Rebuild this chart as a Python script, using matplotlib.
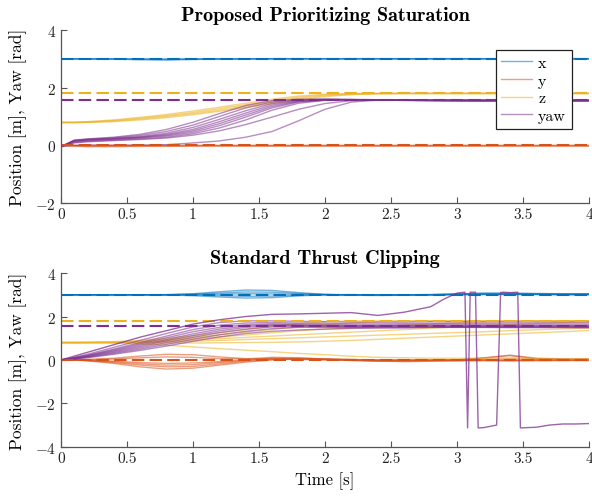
import numpy as np
import matplotlib
matplotlib.use('Agg')
from matplotlib import pyplot as plt

plt.rcParams['font.family'] = 'cmr10'
plt.rcParams['mathtext.fontset'] = 'cm'
plt.rcParams['axes.formatter.use_mathtext'] = True
plt.rcParams['axes.unicode_minus'] = True

# colours for x, y, z, yaw
c_x = '#0072BD'
c_y = '#D95319'
c_z = '#EDB120'
c_yaw = '#7E2F8E'

# reference setpoints
ref_x = 3.0
ref_y = 0.0
ref_z = 1.8
ref_yaw = 1.57

# common sample times of the runs [s]
t = [0, 0.1, 0.2, 0.4, 0.6, 0.8, 1.0, 1.2, 1.4, 1.6, 1.8, 2.0, 2.2, 2.4, 2.6, 2.8, 3.0, 3.2, 3.4, 3.6, 3.8, 4.0]

# ---------------- prioritizing saturation ----------------
top_x = [
    [3.0, 3.0, 3.0, 3.0, 2.99, 2.98, 2.99, 3.0, 3.0, 3.0, 3.0, 3.0, 3.0, 3.0, 3.0, 3.0, 3.0, 3.0, 3.0, 3.0, 3.0, 3.0],
    [3.0, 3.0, 3.0, 2.99, 2.97, 2.96, 2.98, 2.99, 3.0, 3.0, 3.0, 3.0, 3.0, 3.0, 3.0, 3.0, 3.0, 3.0, 3.0, 3.0, 3.0, 3.0],
    [3.0, 3.0, 3.0, 3.0, 3.0, 3.0, 3.0, 3.0, 3.0, 3.01, 3.01, 3.01, 3.01, 3.01, 3.01, 3.01, 3.01, 3.01, 3.01, 3.01, 3.01, 3.01],
]
top_y = [
    [0.0, -0.02, -0.03, -0.03, -0.02, -0.02, -0.02, -0.02, -0.02, -0.02, -0.02, -0.02, -0.02, -0.02, -0.02, -0.02, -0.02, -0.02, -0.02, -0.02, -0.02, -0.02],
    [0.0, -0.03, -0.05, -0.05, -0.04, -0.04, -0.03, -0.03, -0.03, -0.03, -0.03, -0.03, -0.03, -0.03, -0.03, -0.03, -0.03, -0.03, -0.03, -0.03, -0.03, -0.03],
    [0.0, -0.01, -0.01, 0.0, 0.0, 0.0, 0.0, 0.0, 0.0, 0.0, 0.0, 0.0, 0.0, 0.0, 0.0, 0.0, 0.0, 0.0, 0.0, 0.0, 0.0, 0.0],
]
top_z = [
    [0.8, 0.8, 0.82, 0.88, 0.97, 1.07, 1.19, 1.32, 1.46, 1.6, 1.71, 1.77, 1.8, 1.8, 1.8, 1.8, 1.8, 1.8, 1.8, 1.8, 1.8, 1.8],
    [0.8, 0.8, 0.81, 0.86, 0.94, 1.03, 1.14, 1.27, 1.41, 1.55, 1.67, 1.75, 1.79, 1.8, 1.8, 1.8, 1.8, 1.8, 1.8, 1.8, 1.8, 1.8],
    [0.79, 0.79, 0.8, 0.84, 0.91, 1.0, 1.1, 1.22, 1.36, 1.5, 1.63, 1.72, 1.77, 1.79, 1.8, 1.8, 1.8, 1.8, 1.8, 1.8, 1.8, 1.8],
    [0.78, 0.78, 0.79, 0.82, 0.88, 0.96, 1.06, 1.18, 1.31, 1.45, 1.58, 1.69, 1.76, 1.79, 1.8, 1.8, 1.8, 1.8, 1.8, 1.8, 1.8, 1.8],
]
top_yaw = [
    [-0.05, 0.18, 0.22, 0.28, 0.38, 0.55, 0.8, 1.1, 1.38, 1.55, 1.6, 1.6, 1.59, 1.58, 1.57, 1.57, 1.57, 1.57, 1.57, 1.57, 1.57, 1.57],
    [-0.05, 0.17, 0.21, 0.26, 0.34, 0.48, 0.7, 1.0, 1.3, 1.5, 1.58, 1.6, 1.59, 1.58, 1.57, 1.57, 1.57, 1.56, 1.56, 1.56, 1.56, 1.56],
    [-0.05, 0.16, 0.2, 0.24, 0.3, 0.42, 0.62, 0.9, 1.2, 1.45, 1.56, 1.59, 1.58, 1.57, 1.56, 1.55, 1.55, 1.55, 1.55, 1.55, 1.55, 1.55],
    [-0.05, 0.15, 0.19, 0.23, 0.28, 0.38, 0.55, 0.82, 1.12, 1.4, 1.54, 1.58, 1.58, 1.57, 1.56, 1.55, 1.54, 1.54, 1.54, 1.54, 1.54, 1.54],
    [-0.05, 0.14, 0.18, 0.22, 0.27, 0.35, 0.5, 0.75, 1.05, 1.35, 1.52, 1.57, 1.58, 1.57, 1.56, 1.55, 1.54, 1.53, 1.53, 1.53, 1.53, 1.53],
    [-0.05, 0.12, 0.16, 0.2, 0.25, 0.32, 0.45, 0.68, 0.98, 1.3, 1.5, 1.57, 1.58, 1.58, 1.57, 1.56, 1.55, 1.55, 1.55, 1.55, 1.55, 1.55],
    [-0.05, 0.1, 0.14, 0.18, 0.22, 0.28, 0.4, 0.6, 0.88, 1.22, 1.46, 1.56, 1.58, 1.58, 1.57, 1.56, 1.56, 1.56, 1.56, 1.56, 1.56, 1.56],
    [-0.05, 0.08, 0.12, 0.16, 0.2, 0.25, 0.35, 0.5, 0.72, 0.98, 1.25, 1.45, 1.55, 1.57, 1.57, 1.56, 1.56, 1.56, 1.56, 1.56, 1.56, 1.56],
    [-0.05, 0.0, 0.01, 0.0, 0.0, 0.02, 0.08, 0.15, 0.28, 0.48, 0.85, 1.25, 1.5, 1.57, 1.58, 1.57, 1.57, 1.57, 1.57, 1.57, 1.57, 1.57],
]

# ---------------- standard thrust clipping ----------------
bot_x = [
    [3.0, 3.0, 3.0, 3.0, 3.0, 3.01, 3.05, 3.14, 3.22, 3.2, 3.1, 3.02, 2.98, 2.97, 2.98, 3.0, 3.04, 3.08, 3.08, 3.06, 3.05, 3.05],
    [3.0, 3.0, 3.0, 3.0, 3.0, 3.0, 3.03, 3.08, 3.13, 3.12, 3.06, 3.02, 3.0, 2.99, 3.0, 3.01, 3.04, 3.06, 3.06, 3.05, 3.04, 3.04],
    [3.0, 3.0, 3.0, 3.0, 3.0, 3.0, 3.01, 3.03, 3.05, 3.04, 3.02, 3.0, 2.99, 2.99, 3.0, 3.01, 3.02, 3.03, 3.03, 3.03, 3.02, 3.02],
    [3.0, 3.0, 3.0, 3.0, 3.0, 3.0, 2.99, 2.96, 2.93, 2.94, 2.98, 3.0, 3.0, 3.0, 3.0, 3.0, 3.01, 3.02, 3.02, 3.02, 3.01, 3.01],
    [3.0, 3.0, 3.0, 3.0, 3.0, 2.99, 2.96, 2.9, 2.85, 2.87, 2.95, 3.0, 3.01, 3.0, 2.99, 2.99, 3.0, 3.01, 3.02, 3.01, 3.0, 3.0],
]
bot_y = [
    [0.0, 0.0, 0.02, 0.08, 0.18, 0.26, 0.24, 0.14, 0.06, 0.04, 0.02, 0.0, -0.02, -0.02, 0.0, 0.0, 0.0, 0.02, 0.05, 0.03, 0.02, 0.02],
    [0.0, 0.0, 0.01, 0.04, 0.1, 0.14, 0.12, 0.06, 0.05, 0.12, 0.1, 0.05, 0.02, 0.0, -0.02, -0.01, 0.0, 0.1, 0.2, 0.05, 0.02, 0.03],
    [0.0, 0.0, -0.02, -0.06, -0.12, -0.16, -0.14, -0.08, 0.0, 0.08, 0.06, 0.02, -0.02, -0.04, -0.03, -0.02, -0.02, -0.03, -0.02, 0.0, 0.0, 0.0],
    [0.0, 0.0, -0.03, -0.12, -0.24, -0.32, -0.3, -0.18, -0.06, 0.02, 0.04, 0.02, -0.02, -0.06, -0.06, -0.04, -0.03, -0.03, -0.05, -0.02, -0.02, -0.02],
    [0.0, 0.0, -0.04, -0.16, -0.32, -0.42, -0.38, -0.24, -0.1, 0.0, 0.05, 0.04, 0.0, -0.05, -0.08, -0.06, -0.04, 0.0, -0.02, -0.04, -0.03, -0.03],
    [0.0, 0.0, -0.02, -0.08, -0.18, -0.24, -0.22, -0.12, -0.02, 0.06, 0.08, 0.04, 0.02, 0.0, -0.01, -0.02, 0.0, 0.08, 0.22, 0.08, 0.05, 0.04],
]
bot_z = [
    [0.8, 0.8, 0.81, 0.84, 0.9, 1.0, 1.12, 1.25, 1.4, 1.55, 1.68, 1.76, 1.8, 1.8, 1.8, 1.8, 1.8, 1.8, 1.8, 1.8, 1.8, 1.8],
    [0.8, 0.8, 0.8, 0.82, 0.86, 0.94, 1.04, 1.15, 1.28, 1.4, 1.52, 1.62, 1.7, 1.76, 1.79, 1.8, 1.8, 1.8, 1.8, 1.8, 1.8, 1.8],
    [0.8, 0.8, 0.8, 0.81, 0.84, 0.9, 0.98, 1.06, 1.15, 1.25, 1.35, 1.42, 1.48, 1.54, 1.6, 1.66, 1.71, 1.75, 1.78, 1.8, 1.8, 1.8],
    [0.8, 0.8, 0.8, 0.8, 0.82, 0.86, 0.92, 0.98, 1.04, 1.1, 1.16, 1.22, 1.28, 1.34, 1.4, 1.46, 1.52, 1.58, 1.63, 1.68, 1.72, 1.76],
    [0.8, 0.8, 0.8, 0.8, 0.81, 0.83, 0.86, 0.9, 0.94, 0.98, 1.02, 1.06, 1.1, 1.14, 1.18, 1.22, 1.26, 1.3, 1.35, 1.39, 1.43, 1.47],
    [0.8, 0.8, 0.8, 0.8, 0.79, 0.78, 0.78, 0.79, 0.8, 0.81, 0.83, 0.86, 0.9, 0.95, 1.0, 1.05, 1.1, 1.15, 1.2, 1.25, 1.3, 1.35],
    [0.8, 0.8, 0.8, 0.78, 0.74, 0.68, 0.6, 0.52, 0.45, 0.38, 0.3, 0.24, 0.17, 0.12, 0.1, 0.08, 0.08, 0.08, 0.1, 0.06, 0.04, 0.04],
]
bot_yaw = [
    [0.0, 0.12, 0.26, 0.58, 0.9, 1.22, 1.52, 1.72, 1.8, 1.8, 1.78, 1.76, 1.74, 1.74, 1.74, 1.76, 1.76, 1.75, 1.74, 1.74, 1.74, 1.74],
    [0.0, 0.1, 0.22, 0.5, 0.8, 1.1, 1.4, 1.6, 1.7, 1.72, 1.7, 1.68, 1.66, 1.66, 1.67, 1.68, 1.68, 1.67, 1.66, 1.66, 1.66, 1.66],
    [0.0, 0.09, 0.2, 0.46, 0.74, 1.02, 1.3, 1.5, 1.62, 1.66, 1.64, 1.62, 1.6, 1.6, 1.61, 1.62, 1.62, 1.61, 1.6, 1.6, 1.6, 1.6],
    [0.0, 0.08, 0.18, 0.42, 0.68, 0.94, 1.2, 1.42, 1.56, 1.62, 1.6, 1.58, 1.57, 1.57, 1.58, 1.58, 1.57, 1.57, 1.56, 1.56, 1.57, 1.57],
    [0.0, 0.07, 0.16, 0.38, 0.62, 0.88, 1.12, 1.34, 1.5, 1.58, 1.58, 1.56, 1.55, 1.55, 1.55, 1.56, 1.56, 1.55, 1.55, 1.55, 1.55, 1.55],
    [0.0, 0.06, 0.14, 0.34, 0.56, 0.8, 1.04, 1.26, 1.42, 1.52, 1.54, 1.53, 1.52, 1.52, 1.52, 1.53, 1.53, 1.52, 1.52, 1.52, 1.52, 1.52],
    [0.0, 0.05, 0.12, 0.3, 0.5, 0.72, 0.95, 1.16, 1.32, 1.44, 1.5, 1.5, 1.49, 1.49, 1.49, 1.5, 1.5, 1.5, 1.49, 1.49, 1.49, 1.48],
    [0.0, 0.05, 0.1, 0.26, 0.44, 0.64, 0.86, 1.06, 1.22, 1.32, 1.38, 1.42, 1.45, 1.47, 1.48, 1.5, 1.5, 1.5, 1.5, 1.5, 1.5, 1.5],
]
# run whose yaw wraps around +-pi
t_wrap = [0, 0.2, 0.4, 0.6, 0.8, 1.0, 1.2, 1.4, 1.6, 1.8, 2.0, 2.2, 2.4, 2.6, 2.8, 2.9, 3.0, 3.06,
          3.08, 3.1, 3.14, 3.16, 3.2, 3.3, 3.33, 3.35, 3.4, 3.46, 3.48, 3.6, 3.7, 3.8, 3.9, 4.0]
yaw_wrap = [0.0, 0.35, 0.7, 1.05, 1.35, 1.65, 1.85, 2.0, 2.1, 2.12, 2.15, 2.18, 2.05, 2.2, 2.45, 2.8, 3.08, 3.12,
            -3.13, 3.12, 3.12, -3.13, -3.12, -3.0, 3.1, 3.12, 3.1, 3.12, -3.13, -3.1, -3.0, -2.95, -2.95, -2.93]


def draw_panel(ax, xs, ys, zs, yaws, title):
    hx = hy = hz = hyaw = None
    for r in xs:
        hx, = ax.plot(t, r, color=c_x, lw=1.0, alpha=0.55)
    for r in ys:
        hy, = ax.plot(t, r, color=c_y, lw=1.0, alpha=0.55)
    for r in zs:
        hz, = ax.plot(t, r, color=c_z, lw=1.0, alpha=0.55)
    for r in yaws:
        hyaw, = ax.plot(t, r, color=c_yaw, lw=1.0, alpha=0.55)
    for val, col in [(ref_x, c_x), (ref_y, c_y), (ref_z, c_z), (ref_yaw, c_yaw)]:
        ax.plot([0, 4], [val, val], color=col, lw=1.5, ls=(0, (6, 2.5)))
    ax.set_xlim(0, 4)
    ax.set_xticks(np.arange(0, 4.01, 0.5))
    ax.set_xticklabels(['0', '0.5', '1', '1.5', '2', '2.5', '3', '3.5', '4'])
    ax.spines['top'].set_visible(False)
    ax.spines['right'].set_visible(False)
    for s in ['left', 'bottom']:
        ax.spines[s].set_color('#555555')
        ax.spines[s].set_linewidth(0.9)
    ax.tick_params(direction='in', length=4, width=0.8, colors='#555555',
                   labelcolor='#222222', labelsize=11)
    ax.set_ylabel('Position [m], Yaw [rad]', fontsize=12.5, labelpad=6)
    ax.set_title(title, fontsize=14.5, family='cmb10', pad=7)
    return hx, hy, hz, hyaw


fig = plt.figure(figsize=(5.92, 5.02), dpi=100)
ax1 = fig.add_axes([0.103, 0.594, 0.892, 0.344])
ax2 = fig.add_axes([0.103, 0.108, 0.892, 0.346])

hx, hy, hz, hyaw = draw_panel(ax1, top_x, top_y, top_z, top_yaw, 'Proposed Prioritizing Saturation')
ax1.set_ylim(-2, 4)
ax1.set_yticks([-2, 0, 2, 4])
leg = ax1.legend([hx, hy, hz, hyaw], ['x', 'y', 'z', 'yaw'], loc='upper right',
                 bbox_to_anchor=(0.982, 0.93), fancybox=False, framealpha=1,
                 edgecolor='#222222', fontsize=11.5, handlelength=1.9,
                 handletextpad=0.4, borderpad=0.35, labelspacing=0.22)
leg.get_frame().set_linewidth(0.9)

draw_panel(ax2, bot_x, bot_y, bot_z, bot_yaw, 'Standard Thrust Clipping')
ax2.plot(t_wrap, yaw_wrap, color=c_yaw, lw=1.0, alpha=0.75)
ax2.set_ylim(-4, 4)
ax2.set_yticks([-4, -2, 0, 2, 4])
ax2.set_xlabel('Time [s]', fontsize=12)

fig.savefig('out.png', dpi=100)
